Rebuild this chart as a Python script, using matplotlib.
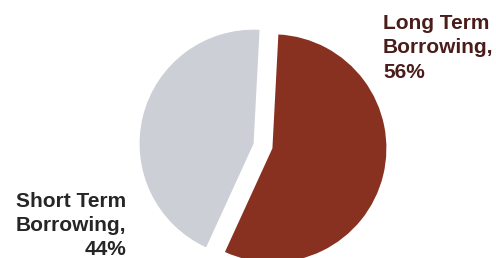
import matplotlib.pyplot as plt

# data
labels = ['Long Term\nBorrowing,\n56%', 'Short Term\nBorrowing,\n44%']
shares = [56, 44]
colors = ['#883121', '#cdcfd6']

W, H = 496, 258
fig = plt.figure(figsize=(W / 100, H / 100), dpi=100)
ax = fig.add_axes([0, 0, 1, 1])

ax.pie(shares, colors=colors, startangle=87, counterclock=False,
       explode=[0.085, 0.085], wedgeprops=dict(linewidth=0))

# pie radius 1 -> ~114 px, centre at (263, 146) px from top-left
r_px = 114
cx, cy = 263, 146
ax.set_xlim(-cx / r_px, (W - cx) / r_px)
ax.set_ylim(-(H - cy) / r_px, cy / r_px)
ax.set_aspect('auto')
ax.axis('off')

font = ['Liberation Sans', 'DejaVu Sans']
fig.text(383 / W, 1 - 14 / H, labels[0], ha='left', va='top',
         fontsize=15, fontweight='bold', color='#4a1d1a',
         family=font, linespacing=1.35)
fig.text(126 / W, 1 - 192 / H, labels[1], ha='right', va='top',
         multialignment='right', fontsize=15, fontweight='bold',
         color='#262626', family=font, linespacing=1.33)

fig.savefig('out.png', dpi=100)
